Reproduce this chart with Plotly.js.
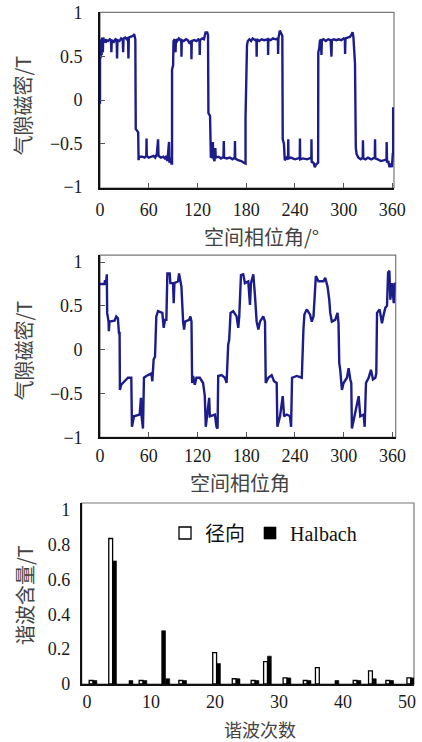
<!DOCTYPE html>
<html>
<head>
<meta charset="utf-8">
<script src="https://cdn.plot.ly/plotly-3.0.1.min.js"></script>
<style>
  html, body { margin: 0; padding: 0; background: #fff; }
  #chart { width: 422px; height: 742px; }
</style>
</head>
<body>
<div id="chart"></div>
<script>
// ---------- data: radial-magnetised air-gap flux density (top panel) ----------
const topAngle = [
  0,0,1,1.5,2,2.5,3.5,4,5,6,7,8,10,12,13.5,14,14.5,17,19,20.5,21,21.5,24,26,28,28.5,29,31,33,34.5,35,35.5,38,41,42,43.5,
  44,46,47,47.5,48,52,55,57,57.3,57.6,60,63,66,68,70,71.5,72,75,78,80,82,83,84.5,85,85.5,87,88,88.7,88.7,90,90.5,
  92,93,93.5,95,97,99,100,100.3,100.7,103,106,108,110,112.3,112.6,113,116,119,121,122.5,122.8,123.2,126,128,130,132,133,
  133.5,135.5,136.5,138,139,139.5,141,142,142.5,146,149,152,152.4,152.8,156,160,163,165.9,166.2,166.5,170,174,177,178.5,179.2,179.2,180.5,181,182,
  184,186,188,191,192.6,192.9,193.2,196,199,202,205,206.8,207,207.3,210,213,216,219,219.3,219.7,221.4,222.5,224.5,
  225,226.5,227.5,230,231.6,231.8,232.1,235,240,244,246,246.2,246.5,250,255,260.2,260.4,260.7,263,264.5,266,268,268.6,268.8,270,270.7,
  272,272.7,273.2,275,278,281,284,285,285.5,288,291,294,297,300,301.5,301.8,302.2,305,308,310,311,312,313,314,
  315,316,318,321,323.5,323.8,324.2,327,330,334,338.4,338.7,339,342,346,350,352.8,353,353.5,355,356.5,358,359.5,360.5,361,361
];
const topFlux = [
  -0.04,0.48,0.50,0.70,0.52,0.72,0.55,0.72,0.68,0.70,0.66,0.69,0.68,0.70,0.69,0.55,0.69,0.67,0.70,0.69,0.48,0.69,0.68,0.71,0.69,0.55,0.71,0.72,0.70,0.72,0.48,0.72,0.73,0.74,0.76,0.70,
  -0.33,-0.37,-0.37,-0.69,-0.65,-0.65,-0.66,-0.64,-0.44,-0.64,-0.66,-0.65,-0.64,-0.66,-0.62,-0.45,-0.64,-0.66,-0.65,-0.67,-0.64,-0.70,-0.58,-0.48,-0.72,-0.66,-0.73,-0.73,0.35,0.40,0.68,
  0.70,0.55,0.70,0.68,0.71,0.69,0.70,0.50,0.69,0.68,0.70,0.69,0.66,0.68,0.47,0.68,0.69,0.68,0.70,0.69,0.52,0.69,0.71,0.70,0.78,0.78,0.75,
  -0.15,-0.18,-0.66,-0.65,-0.48,-0.66,-0.70,-0.55,-0.66,-0.65,-0.67,-0.65,-0.47,-0.66,-0.67,-0.66,-0.68,-0.66,-0.47,-0.67,-0.69,-0.70,-0.72,-0.73,-0.73,-0.20,0.55,0.63,0.68,
  0.70,0.68,0.71,0.69,0.70,0.50,0.70,0.68,0.70,0.69,0.70,0.70,0.52,0.70,0.69,0.71,0.70,0.71,0.53,0.71,0.80,0.78,0.74,
  -0.45,-0.50,-0.69,-0.66,-0.68,-0.45,-0.67,-0.66,-0.68,-0.67,-0.66,-0.44,-0.68,-0.67,-0.68,-0.66,-0.45,-0.71,-0.72,-0.77,-0.74,-0.72,-0.72,0.55,0.60,0.68,
  0.70,0.52,0.69,0.70,0.68,0.70,0.69,0.50,0.69,0.70,0.69,0.70,0.69,0.71,0.70,0.53,0.71,0.72,0.73,0.76,0.78,0.73,0.45,0.42,
  -0.55,-0.62,-0.66,-0.68,-0.66,-0.46,-0.67,-0.68,-0.66,-0.68,-0.66,-0.45,-0.67,-0.68,-0.70,-0.69,-0.68,-0.48,-0.72,-0.70,-0.77,-0.73,-0.77,-0.62,-0.62,-0.08
];

// ---------- data: Halbach air-gap flux density (middle panel) ----------
const midAngle = [
  0,5.6,6,7.6,8.4,8.8,10.5,10.9,11.7,17.9,20,22,23.3,24.1,24.5,26.1,34.4,38.5,39.3,41.8,48.8,50.4,51.2,52.9,54.1,57,63.2,64.4,66,67.7,69.3,71.4,76.7,78.4,80,81.7,82.9,85.8,86.6,89.9,90.7,91.6,96.1,97.3,100.2,
  101.4,102.3,103.5,104.7,109.7,111.3,112.6,113.4,114.6,116.7,118.7,122.8,126.9,129,130.2,131.9,134.4,135.2,141.4,143.4,144.7,145.5,149.6,153.7,155.8,157.8,159,160.7,164,168.1,170.2,171.4,172.2,173.5,176.3,178.4,182.5,184.6,185.8,188.7,190.8,
  192,192.8,194.9,196.9,201,203.1,204,207.2,211.3,214.2,217.5,218.3,221.6,224.9,226.6,229.8,233.9,235.2,236.4,242.2,248.4,249.2,250.4,251.6,254.5,258.6,260.7,262.8,264,265.7,268.9,275.1,277.2,280.1,282.2,
  283.4,285.4,289.5,292.4,293.6,294.5,295.7,297.8,299.8,304,306,308.1,309.3,310.1,313,318.4,320.4,324.5,325.8,327.4,330.7,333.5,336,338.9,340.1,341,344.2,347.1,349.2,351.3,353.3,354.6,356.2,357.4,359.5,361.6,362.8,364
];
const midFlux = [
  0.75,0.75,0.78,0.78,0.86,0.42,0.32,0.21,0.32,0.33,0.38,0.36,0.19,0.19,-0.46,-0.40,-0.32,-0.32,-0.88,-0.76,-0.74,-0.55,-0.76,-0.90,-0.32,-0.30,-0.27,-0.36,-0.11,-0.08,0.38,0.44,0.42,0.25,0.34,0.34,0.87,0.87,0.76,0.76,0.53,0.76,0.78,0.87,0.72,
  0.42,0.32,0.23,0.32,0.34,0.38,0.32,-0.38,-0.30,-0.40,-0.32,-0.32,-0.38,-0.53,-0.88,-0.74,-0.55,-0.76,-0.74,-0.88,-0.90,-0.30,-0.29,-0.32,-0.38,0.06,0.11,0.42,0.44,0.38,0.25,0.38,0.65,0.85,0.86,0.76,0.78,0.51,0.76,0.86,0.61,
  0.40,0.32,0.23,0.32,0.38,0.32,-0.38,-0.32,-0.29,-0.36,-0.38,-0.88,-0.76,-0.53,-0.76,-0.74,-0.76,-0.88,-0.32,-0.30,-0.32,0,0.23,0.40,0.46,0.40,0.32,0.38,0.65,0.84,0.78,0.78,0.82,0.72,0.57,
  0.42,0.32,0.34,0.42,0.30,-0.15,-0.23,-0.46,-0.38,-0.32,-0.21,-0.34,-0.38,-0.90,-0.76,-0.53,-0.76,-0.74,-0.88,-0.38,-0.32,-0.23,-0.34,-0.32,-0.27,0.42,0.46,0.30,0.40,0.48,0.50,0.88,0.90,0.57,0.76,0.53,0.76,0.75
];

// ---------- data: harmonic content (bottom panel) ----------
const radialOrder  = [0.94, 4.0, 8.75, 14.95, 20.25, 23.3, 26.25, 28.2, 31.25, 34.4, 36.3, 42.2, 44.6, 47.3, 50.6];
const radialAmp    = [0.02, 0.836, 0.02, 0.02, 0.18, 0.03, 0.02, 0.129, 0.035, 0.02, 0.094, 0.02, 0.075, 0.02, 0.035];
const halbachOrder = [0.94, 4.0, 6.56, 8.75, 11.67, 12.32, 14.95, 20.25, 23.3, 26.25, 28.2, 31.25, 34.4, 38.75, 42.2, 44.6, 47.3, 50.6];
const halbachAmp   = [0.02, 0.707, 0.02, 0.02, 0.306, 0.03, 0.02, 0.117, 0.03, 0.02, 0.16, 0.035, 0.02, 0.02, 0.02, 0.03, 0.02, 0.035];

// ---------- tick labels & titles ----------
const angleTicks = [0, 60, 120, 180, 240, 300, 360];
const fluxTicks = [-1, -0.5, 0, 0.5, 1];
const harmonicTicks = [0, 10, 20, 30, 40, 50];
const ampTicks = [0, 0.2, 0.4, 0.6, 0.8, 1];
const seriesNames = ['径向', 'Halbach'];
const titleTexts = ['空间相位角/°', '空间相位角', '谐波次数', '气隙磁密/T', '气隙磁密/T', '谐波含量/T'];

// ---------- style ----------
const FONT = 'Liberation Serif, "Noto Sans CJK SC", serif';
const TITLEFONT = '"Noto Sans CJK SC", "Liberation Serif", serif';
const LINE = '#1c1c8a';
const tickFont = {family: FONT, size: 18, color: '#1a1a1a'};
const titleFont = {family: TITLEFONT, size: 20, color: '#444444'};

const traces = [
  {x: topAngle, y: topFlux, xaxis: 'x', yaxis: 'y', mode: 'lines',
   line: {color: LINE, width: 2.4}, showlegend: false, hoverinfo: 'skip'},
  {x: midAngle, y: midFlux, xaxis: 'x2', yaxis: 'y2', mode: 'lines',
   line: {color: LINE, width: 2.4}, showlegend: false, hoverinfo: 'skip'},
  {type: 'bar', name: seriesNames[0], x: radialOrder, y: radialAmp, xaxis: 'x3', yaxis: 'y3',
   width: 0.6, offset: -0.6,
   marker: {color: '#ffffff', line: {color: '#000000', width: 1.3}}},
  {type: 'bar', name: seriesNames[1], x: halbachOrder, y: halbachAmp, xaxis: 'x3', yaxis: 'y3',
   width: 0.6, offset: 0,
   marker: {color: '#000000', line: {color: '#000000', width: 0.6}}}
];

function xAxis(domain, range, ticks, anchor, showTicks, standoff) {
  return {
    domain: domain, range: range, anchor: anchor,
    tickmode: 'array', tickvals: ticks,
    ticks: showTicks ? 'inside' : '', ticklen: 5, tickwidth: 1, tickcolor: '#555',
    showline: true, linecolor: '#111', linewidth: 1.8,
    showgrid: false, zeroline: false,
    tickfont: tickFont, ticklabelstandoff: standoff
  };
}
function yAxis(domain, range, ticks, anchor, showTicks, standoff) {
  return {
    domain: domain, range: range, anchor: anchor,
    tickmode: 'array', tickvals: ticks,
    ticks: showTicks ? 'inside' : '', ticklen: 5, tickwidth: 1, tickcolor: '#555',
    showline: true, linecolor: '#111', linewidth: 1.8,
    showgrid: false, zeroline: false,
    tickfont: tickFont, ticklabelstandoff: standoff
  };
}

function frame(xr, yr) {
  return {type: 'rect', xref: xr + ' domain', yref: yr + ' domain', x0: 0, x1: 1, y0: 0, y1: 1,
          line: {color: '#777', width: 1.2}, layer: 'below'};
}

// axis titles placed as paper annotations (pixel positions from the reference)
function px(x) { return x / 422; }
function py(y) { return 1 - y / 742; }
function title(text, x, y, angle, size) {
  return {text: text, xref: 'paper', yref: 'paper', x: px(x), y: py(y),
          xanchor: 'center', yanchor: 'middle', showarrow: false,
          textangle: angle || 0,
          font: Object.assign({}, titleFont, size ? {size: size} : {})};
}

const layout = {
  width: 422, height: 742,
  margin: {l: 0, r: 0, t: 0, b: 0},
  paper_bgcolor: '#ffffff', plot_bgcolor: '#ffffff',
  barmode: 'overlay',
  showlegend: true,
  legend: {
    orientation: 'h', x: px(165), y: py(533), xanchor: 'left', yanchor: 'middle',
    font: {family: FONT, size: 20, color: '#111'},
    bgcolor: 'rgba(0,0,0,0)', itemwidth: 30
  },
  xaxis: xAxis([0.2370, 0.9336], [0, 362], angleTicks, 'y', true, 5),
  yaxis: yAxis([0.7466, 0.9834], [-1.01, 1.01], fluxTicks, 'x', true, 12),
  xaxis2: xAxis([0.2370, 0.9377], [0, 364], angleTicks, 'y2', true, 1),
  yaxis2: yAxis([0.4106, 0.6563], [-1.0, 1.08], fluxTicks, 'x2', true, 12),
  xaxis3: xAxis([0.1936, 0.9810], [-0.83, 51.1], harmonicTicks, 'y3', false, 1),
  yaxis3: yAxis([0.0782, 0.3221], [0, 1.04], ampTicks, 'x3', false, 6),
  shapes: [frame('x', 'y'), frame('x2', 'y2'), frame('x3', 'y3')],
  annotations: [
    title(titleTexts[0], 261, 236),
    title(titleTexts[1], 240, 482),
    title(titleTexts[2], 260, 729, 0, 18),
    title(titleTexts[3], 22.5, 106, -90),
    title(titleTexts[4], 22.5, 351, -90),
    title(titleTexts[5], 24, 595, -90)
  ]
};

Plotly.newPlot('chart', traces, layout, {displayModeBar: false, staticPlot: true});
</script>
</body>
</html>
